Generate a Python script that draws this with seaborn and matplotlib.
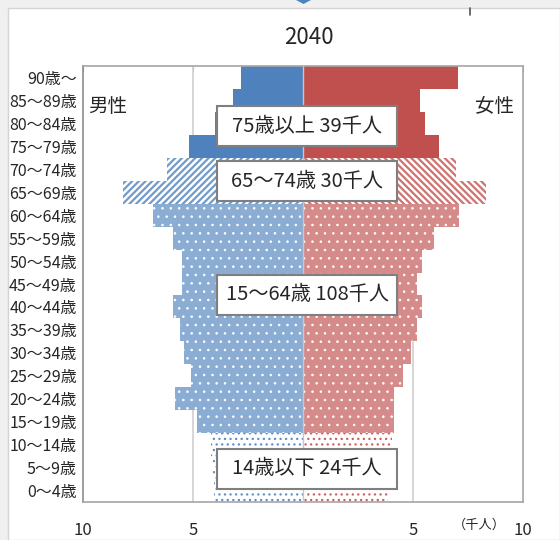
import numpy as np
import pandas as pd
import matplotlib
matplotlib.use("Agg")
import matplotlib.pyplot as plt
import seaborn as sns
from matplotlib.patches import Rectangle, Polygon
from matplotlib.lines import Line2D
from matplotlib.colors import to_rgb

# ---------------- data ----------------
ages = ["90歳～", "85～89歳", "80～84歳", "75～79歳", "70～74歳", "65～69歳",
        "60～64歳", "55～59歳", "50～54歳", "45～49歳", "40～44歳", "35～39歳",
        "30～34歳", "25～29歳", "20～24歳", "15～19歳", "10～14歳", "5～9歳", "0～4歳"]
male = [2.8, 3.2, 4.0, 5.2, 6.2, 8.2, 6.8, 5.9, 5.5, 5.5, 5.9, 5.6, 5.4, 5.1,
        5.8, 4.8, 4.2, 4.1, 4.05]
female = [7.05, 5.3, 5.55, 6.2, 6.95, 8.3, 7.1, 5.95, 5.4, 5.2, 5.4, 5.2, 4.9,
          4.55, 4.15, 4.15, 4.05, 3.95, 3.85]
groups = ["75+"] * 4 + ["65-74"] * 2 + ["15-64"] * 10 + ["0-14"] * 3
box_labels = ["75歳以上 39千人", "65～74歳 30千人", "15～64歳 108千人", "14歳以下 24千人"]
xtick_vals = [-10, -5, 5, 10]
xtick_labels = ["10", "5", "5", "10"]
title = "2040"

BLUE = "#4f81bd"
RED = "#c0504d"

sns.set_style("white")
plt.rcParams["font.family"] = ["Noto Sans CJK JP", "DejaVu Sans"]
plt.rcParams["hatch.linewidth"] = 1.7

W, H = 560, 540
fig = plt.figure(figsize=(W / 100, H / 100), dpi=100)
fig.patch.set_facecolor("#f0f0f0")
fig.add_artist(Rectangle((8 / W, 0), 1 - 8 / W, 1 - 8 / H, transform=fig.transFigure,
                         facecolor="white", edgecolor="#d4d4d4", lw=1, zorder=0))
fig.add_artist(Polygon([(296 / W, 1), (311 / W, 1), (303.5 / W, 1 - 4 / H)],
                       closed=True, transform=fig.transFigure, facecolor="#4f81bd",
                       edgecolor="none", zorder=1))
fig.add_artist(Line2D([470 / W, 470 / W], [1 - 8 / H, 1 - 15 / H], transform=fig.transFigure,
                      color="#555555", lw=1.2, zorder=1))

ax = fig.add_axes([83 / W, 1 - 502 / H, 440 / W, 436 / H])
ax.set_facecolor("white")

df = pd.DataFrame({"age": ages, "male": [-v for v in male], "female": female})
sns.barplot(data=df, y="age", x="male", order=ages, color=BLUE, width=1.0,
            saturation=1, orient="h", ax=ax, zorder=2)
n_m = len(ax.patches)
sns.barplot(data=df, y="age", x="female", order=ages, color=RED, width=1.0,
            saturation=1, orient="h", ax=ax, zorder=2)

def blend(c, f):
    r, g, b = to_rgb(c)
    return (1 - f + f * r, 1 - f + f * g, 1 - f + f * b)

def style(p, grp, col, is_male):
    hl = None
    if grp == "75+":
        p.set_facecolor(col)
        p.set_edgecolor(col)
    elif grp == "65-74":
        p.set_facecolor("white")
        p.set_edgecolor(blend(col, 0.8))
        p.set_hatch("/////" if is_male else "\\\\\\\\\\")
        hl = 1.6
    elif grp == "15-64":
        p.set_facecolor(blend(col, 0.66))
        p.set_edgecolor("white")
        p.set_hatch("..")
        hl = 0.6
    else:
        p.set_facecolor("white")
        p.set_edgecolor(blend(col, 0.9))
        p.set_hatch("...")
        hl = 0.9
    p.set_linewidth(0)
    if hl is not None and hasattr(p, "set_hatch_linewidth"):
        p.set_hatch_linewidth(hl)

for i, p in enumerate(ax.patches[:n_m]):
    style(p, groups[i], BLUE, True)
for i, p in enumerate(ax.patches[n_m:]):
    style(p, groups[i], RED, False)

ax.set_xlim(-10, 10)
ax.set_ylim(len(ages) - 0.5, -0.5)
for xv in (-5, 5):
    ax.axvline(xv, color="#cfcfcf", lw=1.2, zorder=1)
ax.axvline(0, color="#c8c8c8", lw=1.0, zorder=3)

ax.set_xticks(xtick_vals)
ax.set_xticklabels(xtick_labels, fontsize=12)
ax.tick_params(axis="x", length=3, pad=11.5, color="#a6a6a6", direction="out")
ax.tick_params(axis="y", length=0, pad=4.5, labelsize=11.5)
ax.set_xlabel("")
ax.set_ylabel("")
for s in ["top", "right", "bottom"]:
    ax.spines[s].set_color("#a6a6a6")
    ax.spines[s].set_linewidth(1.2)
ax.spines["left"].set_color("#8c8c8c")
ax.spines["left"].set_linewidth(1.2)

sec = ax.secondary_xaxis("top")
sec.set_xticks([-10, -5, 0, 5, 10])
sec.set_xticklabels([])
sec.tick_params(direction="in", length=4, color="#a6a6a6")
sec.spines["top"].set_visible(False)

# annotations
fig.text(309 / W, 1 - 38 / H, title, ha="center", va="center", fontsize=16)
fig.text(88 / W, 1 - 106 / H, "男性", ha="left", va="center", fontsize=14)
fig.text(475 / W, 1 - 106 / H, "女性", ha="left", va="center", fontsize=14)
fig.text(479 / W, 1 - 525 / H, "（千人）", ha="center", va="center", fontsize=9.5)

box_y = [(106, 146), (161, 201), (275, 315), (449, 489)]
for (y0, y1), lab in zip(box_y, box_labels):
    fig.add_artist(Rectangle((217 / W, 1 - y1 / H), 180 / W, (y1 - y0) / H,
                             transform=fig.transFigure, facecolor="white",
                             edgecolor="#7f7f7f", lw=1.5, zorder=5))
    fig.text(307 / W, 1 - (y0 + y1) / 2 / H, lab, ha="center", va="center",
             fontsize=14.5, zorder=6)

fig.savefig("out.png", dpi=100)
